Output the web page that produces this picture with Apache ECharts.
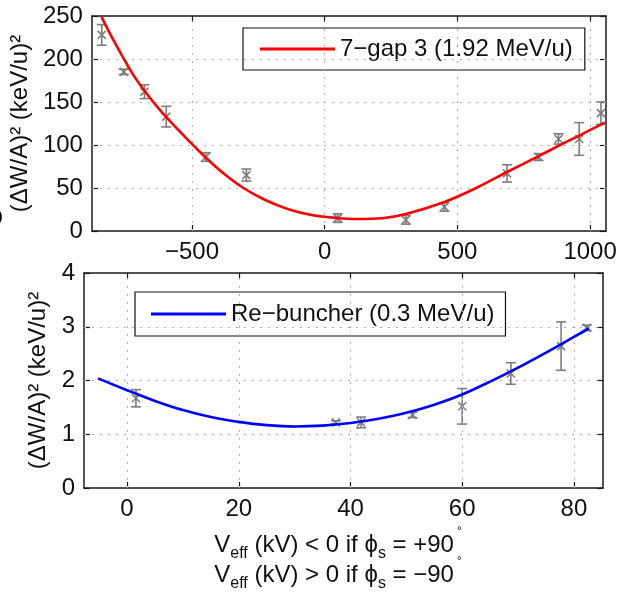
<!DOCTYPE html>
<html><head><meta charset="utf-8">
<script src="https://cdn.jsdelivr.net/npm/echarts@6/dist/echarts.min.js"></script>
<style>html,body{margin:0;padding:0;background:#fff}#c{width:621px;height:602px}</style>
</head><body><div id="c"></div>
<script>
// ---- Top panel: 7-gap 3 (1.92 MeV/u) ----
const topPtX = [-840, -757, -679, -597, -448, -295, 49, 306, 451, 687, 806, 881, 959, 1041];
const topPtY = [228, 185, 162, 133, 86, 65, 15, 13, 28, 67, 86, 107, 107, 137];
const topPtErr = [12, 3, 8, 12, 5, 7, 5, 5, 5, 10, 4, 6, 19, 13];
const topFitX = [-841, -798, -760, -720, -679, -638, -596, -522, -449, -377, -306, -224, -134, -45, 48, 116, 216, 306, 451, 571, 687, 806, 881, 959, 1056];
const topFitY = [249, 223, 202, 181, 163, 147, 132, 108, 85.5, 66, 50, 36, 25, 18.3, 15.1, 14, 14.8, 19.8, 33.7, 50, 68.6, 87, 99, 111, 126];
const topXTicks = [-500, 0, 500, 1000];
const topYTicks = [50, 100, 150, 200];
const topName = '7\u2212gap 3 (1.92 MeV/u)';

// ---- Bottom panel: Re-buncher (0.3 MeV/u) ----
const botPtX = [1.6, 37.4, 41.9, 51.1, 60.0, 68.7, 77.7, 82.3];
const botPtY = [1.67, 1.22, 1.22, 1.36, 1.52, 2.13, 2.64, 2.98];
const botPtErr = [0.16, 0.03, 0.1, 0.05, 0.33, 0.2, 0.45, 0.05];
const botFitX = [-5.2, 0, 5, 10, 15, 20, 25, 30, 35, 40, 45, 50, 55, 60, 65, 70, 75, 80, 82.7];
const botFitY = [2.04, 1.82, 1.62, 1.45, 1.32, 1.23, 1.17, 1.145, 1.16, 1.21, 1.29, 1.40, 1.55, 1.74, 1.98, 2.24, 2.52, 2.81, 2.97];
const botXTicks = [0, 20, 40, 60, 80];
const botYTicks = [1, 2, 3];
const botName = 'Re\u2212buncher (0.3 MeV/u)';

const yTitle = '(\u0394W/A)\u00B2 (keV/u)\u00B2';

const FF = "'Liberation Sans', Arial, Helvetica, sans-serif";
const zip = (a, b, c) => a.map((v, i) => c ? [v, b[i], c[i]] : [v, b[i]]);
const fmt = v => (v < 0 ? '\u2212' + (-v) : String(v));

function xAx(grid, min, max, ticks, pos, labels) {
  return {
    type: 'value', gridIndex: grid, position: pos, min: min, max: max,
    axisLine: {show: true, onZero: false, lineStyle: {color: '#1a1a1a', width: 1.5}},
    axisTick: {show: true, inside: true, length: 6, customValues: ticks, lineStyle: {color: '#1a1a1a', width: 1.2}},
    axisLabel: {show: labels, customValues: ticks, formatter: fmt, fontSize: 24, fontFamily: FF, color: '#111', margin: 9},
    splitLine: {show: false}
  };
}
function yAx(grid, max, interval, pos, labels, name, gap) {
  return {
    type: 'value', gridIndex: grid, position: pos, min: 0, max: max, interval: interval,
    axisLine: {show: true, onZero: false, lineStyle: {color: '#1a1a1a', width: 1.5}},
    axisTick: {show: true, inside: true, length: 6, lineStyle: {color: '#1a1a1a', width: 1.2}},
    axisLabel: {show: labels, formatter: fmt, fontSize: 24, fontFamily: FF, color: '#111', margin: 9},
    splitLine: {show: false},
    name: name || '', nameLocation: 'middle', nameGap: gap || 0, nameRotate: 90,
    nameTextStyle: {fontSize: 24, fontFamily: FF, color: '#111'}
  };
}

function errItem(params, api) {
  const x = api.value(0), y = api.value(1), e = api.value(2);
  const p = api.coord([x, y]), hi = api.coord([x, y + e]), lo = api.coord([x, y - e]);
  const w = 5, m = 4;
  const st = {stroke: '#7d7d7d', lineWidth: 1.6, fill: null};
  return {type: 'group', children: [
    {type: 'line', shape: {x1: p[0], y1: hi[1], x2: p[0], y2: lo[1]}, style: st},
    {type: 'line', shape: {x1: p[0] - w, y1: hi[1], x2: p[0] + w, y2: hi[1]}, style: st},
    {type: 'line', shape: {x1: p[0] - w, y1: lo[1], x2: p[0] + w, y2: lo[1]}, style: st},
    {type: 'line', shape: {x1: p[0] - m, y1: p[1] - m, x2: p[0] + m, y2: p[1] + m}, style: st},
    {type: 'line', shape: {x1: p[0] - m, y1: p[1] + m, x2: p[0] + m, y2: p[1] - m}, style: st}
  ]};
}

function gridLines(xt, yt) {
  return {
    silent: true, symbol: 'none', label: {show: false},
    lineStyle: {type: [2, 6], color: '#adadad', width: 1},
    emphasis: {disabled: true},
    data: xt.map(v => ({xAxis: v})).concat(yt.map(v => ({yAxis: v})))
  };
}

const legendBase = {
  orient: 'horizontal', itemWidth: 75, itemHeight: 3, selectedMode: false,
  borderColor: '#111', borderWidth: 1.2, backgroundColor: '#fff',
  textStyle: {fontSize: 24, fontFamily: FF, color: '#111'}
};

const rich = {
  m: {fontSize: 24, fontFamily: FF, fill: '#111', color: '#111', verticalAlign: 'top'},
  s: {fontSize: 16, fontFamily: FF, fill: '#111', color: '#111', verticalAlign: 'top', padding: [13, 0, 0, 0]},
  u: {fontSize: 12, fontFamily: FF, fill: '#111', color: '#111', verticalAlign: 'top', padding: [-7, 0, 0, 3]}
};

const chart = echarts.init(document.getElementById('c'), null, {renderer: 'canvas'});
chart.setOption({
  animation: false,
  backgroundColor: '#fff',
  grid: [
    {left: 87, top: 16, width: 519, height: 215},
    {left: 84, top: 273, width: 519, height: 215}
  ],
  xAxis: [
    xAx(0, -877, 1060, topXTicks, 'bottom', true),
    xAx(0, -877, 1060, topXTicks, 'top', false),
    xAx(1, -7.7, 85.2, botXTicks, 'bottom', true),
    xAx(1, -7.7, 85.2, botXTicks, 'top', false)
  ],
  yAxis: [
    yAx(0, 250, 50, 'left', true, yTitle, 58),
    yAx(0, 250, 50, 'right', false),
    yAx(1, 4, 1, 'left', true, yTitle, 30),
    yAx(1, 4, 1, 'right', false)
  ],
  legend: [
    Object.assign({}, legendBase, {data: [{name: topName, icon: 'rect'}], left: 243, top: 28, padding: [9, 12, 9, 17]}),
    Object.assign({}, legendBase, {data: [{name: botName, icon: 'rect'}], left: 135, top: 292, padding: [10, 11, 10, 16]})
  ],
  series: [
    {type: 'line', xAxisIndex: 0, yAxisIndex: 0, data: [], z: 1, markLine: gridLines(topXTicks, topYTicks)},
    {type: 'line', xAxisIndex: 2, yAxisIndex: 2, data: [], z: 1, markLine: gridLines(botXTicks, botYTicks)},
    {type: 'custom', xAxisIndex: 0, yAxisIndex: 0, z: 3, renderItem: errItem,
     encode: {x: 0, y: 1}, data: zip(topPtX, topPtY, topPtErr), silent: true},
    {type: 'custom', xAxisIndex: 2, yAxisIndex: 2, z: 3, renderItem: errItem,
     encode: {x: 0, y: 1}, data: zip(botPtX, botPtY, botPtErr), silent: true},
    {type: 'line', name: topName, xAxisIndex: 0, yAxisIndex: 0, z: 5, smooth: 0.3, showSymbol: false,
     itemStyle: {color: '#ff0000'}, lineStyle: {color: '#ff0000', width: 2.6}, data: zip(topFitX, topFitY), silent: true},
    {type: 'line', name: botName, xAxisIndex: 2, yAxisIndex: 2, z: 5, smooth: 0.3, showSymbol: false,
     itemStyle: {color: '#0000ff'}, lineStyle: {color: '#0000ff', width: 2.6}, data: zip(botFitX, botFitY), silent: true}
  ],
  graphic: [
    {type: 'text', x: 338, y: 533, style: {text: '{m|V}{s|eff}{m| (kV) < 0 if \u03D5}{s|s}{m| = +90}{u|\u00B0}', rich: rich, align: 'center', fontSize: 24, fontFamily: FF, fill: '#111'}},
    {type: 'text', x: 338, y: 563, style: {text: '{m|V}{s|eff}{m| (kV) > 0 if \u03D5}{s|s}{m| = \u221290}{u|\u00B0}', rich: rich, align: 'center', fontSize: 24, fontFamily: FF, fill: '#111'}},
    {type: 'text', x: -13, y: 204, style: {text: 'b', fontSize: 26, fontWeight: 'bold', fontFamily: FF, fill: '#000'}}
  ]
});
</script></body></html>
